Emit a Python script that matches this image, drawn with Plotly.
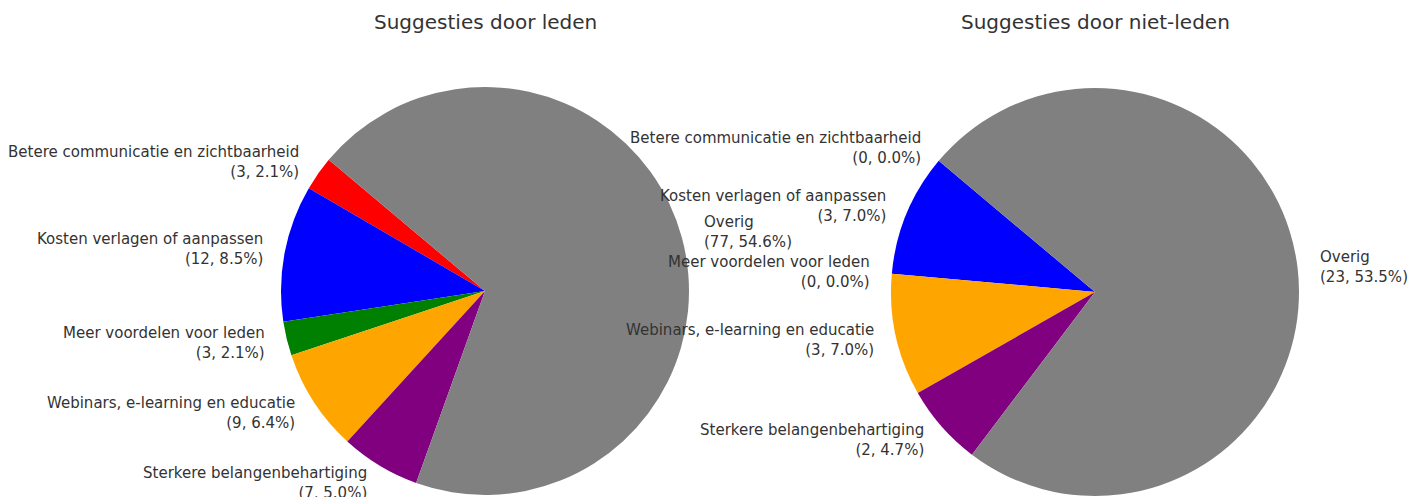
import math
import plotly.graph_objects as go

# Suggestion categories (same order in both pies)
categories = [
    "Betere communicatie en zichtbaarheid",
    "Kosten verlagen of aanpassen",
    "Meer voordelen voor leden",
    "Webinars, e-learning en educatie",
    "Sterkere belangenbehartiging",
    "Overig",
]
colors = ["red", "blue", "green", "orange", "purple", "gray"]

# Counts per group
leden_counts = [3, 12, 3, 9, 7, 77]
niet_leden_counts = [0, 3, 0, 3, 2, 23]

# Respondent totals used for the percentages in the labels
leden_total = 141
niet_leden_total = 43

titles = ["Suggesties door leden", "Suggesties door niet-leden"]

W, H = 1421, 497
START_ANGLE = 140  # degrees, counterclockwise from 3 o'clock
RADIUS = 204
CENTERS = [(485, 291), (1095, 292)]
TEXT_COLOR = "#333333"
FONT = "DejaVu Sans"

fig = go.Figure()
annotations = []

for idx, (counts, total, title) in enumerate(
    [(leden_counts, leden_total, titles[0]),
     (niet_leden_counts, niet_leden_total, titles[1])]
):
    cx, cy = CENTERS[idx]
    drawn_sum = sum(counts)
    # plotly places the first slice clockwise of `rotation` when drawing
    # counterclockwise, so shift by the first slice's span
    first_span = 360.0 * counts[0] / drawn_sum
    fig.add_trace(go.Pie(
        labels=categories,
        values=counts,
        marker=dict(colors=colors, line=dict(width=0)),
        sort=False,
        direction="counterclockwise",
        rotation=-(START_ANGLE - 90) - first_span,
        textinfo="none",
        hoverinfo="label+value",
        showlegend=False,
        domain=dict(
            x=[(cx - RADIUS) / W, (cx + RADIUS) / W],
            y=[1 - (cy + RADIUS) / H, 1 - (cy - RADIUS) / H],
        ),
    ))

    # Labels at 1.1 x radius, on the bisector of each slice
    angle = START_ANGLE
    for cat, c in zip(categories, counts):
        span = 360.0 * c / drawn_sum
        mid = math.radians(angle + span / 2)
        angle += span
        lx = cx + 1.1 * RADIUS * math.cos(mid)
        ly = cy - 1.1 * RADIUS * math.sin(mid)
        pct = 100.0 * c / total
        left = math.cos(mid) < 0
        annotations.append(dict(
            x=lx / W, y=1 - ly / H, xref="paper", yref="paper",
            text=f"{cat}<br>({c}, {pct:.1f}%)",
            showarrow=False,
            xanchor="right" if left else "left",
            yanchor="middle",
            align="right" if left else "left",
            font=dict(family=FONT, size=15, color=TEXT_COLOR),
        ))

    annotations.append(dict(
        x=cx / W, y=1 - 22 / H, xref="paper", yref="paper",
        text=title, showarrow=False, xanchor="center", yanchor="middle",
        font=dict(family=FONT, size=20, color=TEXT_COLOR),
    ))

fig.update_layout(
    width=W, height=H,
    margin=dict(l=0, r=0, t=0, b=0),
    paper_bgcolor="white",
    plot_bgcolor="white",
    annotations=annotations,
)

fig.write_html("out.html")
